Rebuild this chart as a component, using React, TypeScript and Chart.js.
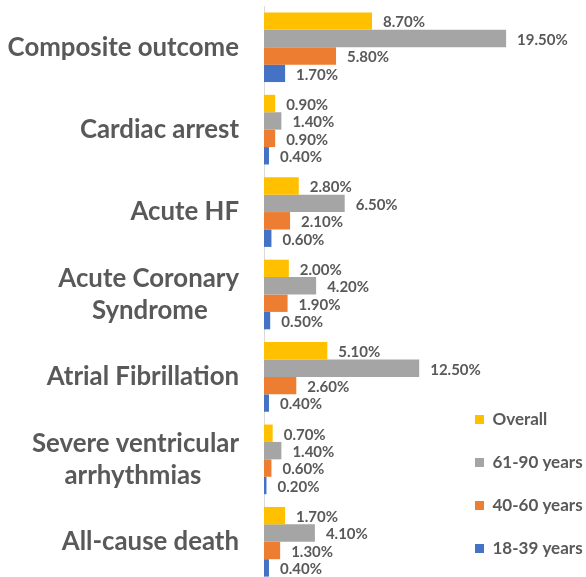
import React, { useEffect, useRef } from "react";
import { Chart, registerables } from "chart.js";

Chart.register(...registerables);

// ---- data ----
const categories: (string | string[])[] = [
  "Composite outcome",
  "Cardiac arrest",
  "Acute HF",
  ["Acute Coronary", "Syndrome"],
  "Atrial Fibrillation",
  ["Severe ventricular", "arrhythmias"],
  "All-cause death",
];
const seriesNames = ["Overall", "61-90 years", "40-60 years", "18-39 years"];
const overall = [8.7, 0.9, 2.8, 2.0, 5.1, 0.7, 1.7];
const age61to90 = [19.5, 1.4, 6.5, 4.2, 12.5, 1.4, 4.1];
const age40to60 = [5.8, 0.9, 2.1, 1.9, 2.6, 0.6, 1.3];
const age18to39 = [1.7, 0.4, 0.6, 0.5, 0.4, 0.2, 0.4];

// ---- styles ----
const seriesColors = ["#FFC000", "#A5A5A5", "#ED7D31", "#4472C4"];
const FONT = "Lato";
const TEXT = "#595959";
const CAT_SIZE = 25.8;
const CAT_FONT = `bold ${CAT_SIZE}px ${FONT}`;

function centerLines(lines: string[]): string[] {
  const c = document.createElement("canvas").getContext("2d")!;
  c.font = CAT_FONT;
  const widths = lines.map((l) => c.measureText(l).width);
  const maxW = Math.max(...widths);
  const sp = c.measureText(" ").width;
  return lines.map((l, i) => l + " ".repeat(Math.round((maxW - widths[i]) / 2 / sp)));
}

const valueLabels = {
  id: "valueLabels",
  afterDatasetsDraw(chart: any) {
    const ctx = chart.ctx;
    ctx.save();
    ctx.font = `bold 15px ${FONT}`;
    ctx.fillStyle = TEXT;
    ctx.textAlign = "left";
    ctx.textBaseline = "middle";
    chart.data.datasets.forEach((ds: any, di: number) => {
      const meta = chart.getDatasetMeta(di);
      meta.data.forEach((el: any, i: number) => {
        const v = ds.data[i] as number;
        ctx.fillText(v.toFixed(2) + "%", el.x + 11, el.y + 1.5);
      });
    });
    ctx.restore();
  },
};

export default function App() {
  const ref = useRef<HTMLCanvasElement>(null);
  useEffect(() => {
    const series = [overall, age61to90, age40to60, age18to39];
    const chart = new Chart(ref.current!, {
      type: "bar",
      data: {
        labels: categories as any,
        datasets: series.map((d, i) => ({
          label: seriesNames[i],
          data: d,
          backgroundColor: seriesColors[i],
          borderWidth: 0,
          categoryPercentage: 0.845,
          barPercentage: 1,
          clip: false as any,
        })),
      },
      options: {
        indexAxis: "y",
        animation: false,
        responsive: false,
        layout: { padding: { top: 6, bottom: 1, left: 0, right: 0 } },
        scales: {
          x: {
            display: false,
            min: 0,
            max: 14.9,
          },
          y: {
            grid: { display: false, drawTicks: false },
            border: { display: true, color: "#D9D9D9", width: 1 },
            ticks: {
              padding: 25,
              color: TEXT,
              font: { family: FONT, size: CAT_SIZE, weight: "bold", lineHeight: 1.25 },
              callback: function (this: any, value: any) {
                const lbl = this.getLabelForValue(value);
                return Array.isArray(lbl) ? centerLines(lbl) : lbl;
              },
            },
            afterFit: (scale: any) => {
              scale.width = 264;
              scale.paddingTop = 0;
              scale.paddingBottom = 0;
            },
          },
        },
        plugins: {
          legend: {
            position: "right",
            align: "end",
            maxWidth: 137,
            labels: {
              boxWidth: 9,
              boxHeight: 9,
              padding: 26,
              color: TEXT,
              font: { family: FONT, size: 17, weight: "bold" },
            },
          },
          tooltip: { enabled: false },
        },
      },
      plugins: [valueLabels],
    });
    return () => chart.destroy();
  }, []);
  return (
    <div style={{ position: "fixed", left: 0, top: 0, width: 586, height: 577, overflow: "hidden", background: "#fff" }}>
      <canvas ref={ref} width={586} height={584} style={{ display: "block" }} />
    </div>
  );
}
